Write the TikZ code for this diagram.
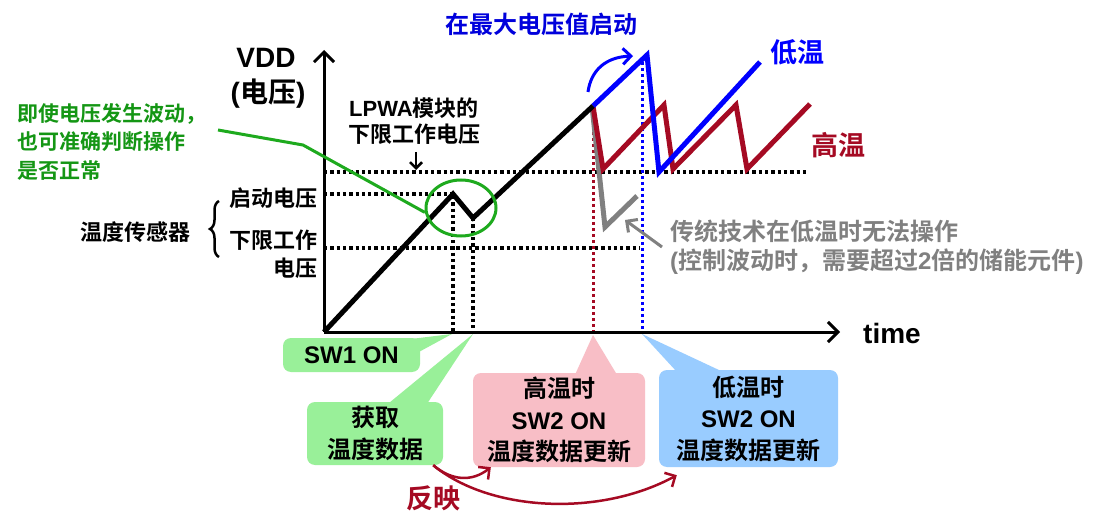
\documentclass[tikz,border=0pt]{standalone}
\usepackage{fontspec}
\setmainfont{Liberation Sans}
\newfontfamily\cjk{Noto Sans CJK SC}[BoldFont={Noto Sans CJK SC Bold}]
\usetikzlibrary{arrows.meta,decorations.pathreplacing,shapes.geometric}
\definecolor{cblue}{RGB}{0,0,255}
\definecolor{tblue}{RGB}{0,0,220}
\definecolor{cred}{RGB}{165,10,35}
\definecolor{cgray}{RGB}{128,128,128}
\definecolor{tgreen}{RGB}{20,150,20}
\definecolor{lgreen}{RGB}{30,170,30}
\definecolor{fgreen}{RGB}{153,240,153}
\definecolor{fpink}{RGB}{248,190,198}
\definecolor{fblue}{RGB}{153,204,255}
\tikzset{
  every node/.style={inner sep=0pt, font=\bfseries},
  axis/.style={line width=3pt, -{Straight Barb[length=10pt,width=20pt,line width=3pt]}},
  kdot/.style={line width=3.3pt, dash pattern=on 3.3pt off 3pt, black},
  cdot/.style={line width=3pt, dash pattern=on 3pt off 3pt},
  wave/.style={line width=5pt, line join=miter, miter limit=4},
  sz22/.style={font=\bfseries\fontsize{22}{26}\selectfont},
  boxtxt/.style={font=\bfseries\fontsize{24}{31.5}\selectfont, align=center, rounded corners=8pt},
  rarrow/.style={line width=2.5pt, cred, -{Straight Barb[length=8pt,width=16pt,line width=2.5pt]}},
}
\begin{document}
\begin{tikzpicture}[x=1pt,y=-1pt]
\useasboundingbox (0,0) rectangle (1120,532);
\fill[white] (0,0) rectangle (1120,532);

% coordinates
\coordinate (O) at (324,332);
\coordinate (Ytop) at (324,50);
\coordinate (Xend) at (840,332);

% dotted guide lines
\draw[kdot] (324,172) -- (806,172);
\draw[kdot] (324,194) -- (453,194);
\draw[kdot] (324,248) -- (640,248);
\draw[kdot] (453,196) -- (453,332);
\draw[kdot] (473,218) -- (473,332);
\draw[cdot, cred] (593,108) -- (593,332);
\draw[cdot, cblue] (642,62) -- (642,332);

% axes
\draw[axis] (O) -- (Ytop);
\draw[axis] (O) -- (Xend);

% waveforms
\draw[wave, cgray] (592,106) -- (605,227) -- (637,196);
\draw[wave, cred] (593,106) -- (603,169) -- (664,105) -- (673,169) -- (736,105) -- (747,169) -- (810,104);
\draw[wave, cblue] (593,106) -- (647,55) -- (659,172) -- (760,62);
\draw[wave, black] (324,332) -- (453,194) -- (473,218) -- (593,106);

% gray arrow to conventional waveform
\coordinate (ga1) at (662,247);
\coordinate (ga2) at (625,220);
\draw[line width=3pt, cgray, -{Straight Barb[length=8pt,width=16pt,line width=3pt]}] (ga1) -- (ga2);

% blue curved arrow
\coordinate (ba1) at (588,92);
\coordinate (ba2) at (633,56);
\draw[line width=3pt, cblue, -{Straight Barb[length=8pt,width=16pt,line width=3pt]}] (ba1) .. controls (591,70) and (606,57) .. (ba2);

% green ellipse and note
\node[draw=lgreen, line width=3pt, ellipse, minimum width=70pt, minimum height=56pt] (ell) at (461,208) {};
\node[font=\bfseries\fontsize{21}{28.5}\selectfont, text=tgreen, align=left, anchor=west] (gnote) at (17,141.5)
  {\cjk 即使电压发生波动，\\\cjk 也可准确判断操作\\\cjk 是否正常};
\coordinate (gl1) at (218,130);
\coordinate (gl2) at (303,145);
\draw[lgreen, line width=3pt] (gl1) -- (gl2) -- (ell.187);

% titles and labels
\node[font=\bfseries\fontsize{24}{24}\selectfont, text=tblue] (title) at (541,24) {\cjk 在最大电压值启动};
\node[font=\bfseries\fontsize{28}{28}\selectfont] (vdd) at (266,58) {VDD};
\node[font=\bfseries\fontsize{28}{28}\selectfont] (vunit) at (268,94) {({\cjk 电压})};
\node[font=\bfseries\fontsize{28}{28}\selectfont] (time) at (892,333) {time};
\node[font=\bfseries\fontsize{27}{27}\selectfont, text=cblue] (low) at (797,52) {\cjk 低温};
\node[font=\bfseries\fontsize{27}{27}\selectfont, text=cred] (high) at (838,145) {\cjk 高温};

\node[sz22, align=center] (lpwa) at (414,121) {LPWA{\cjk 模块的}\\{\cjk 下限工作电压}};
\coordinate (lpa) at (416,152);
\coordinate (lpb) at (416,170);
\draw[line width=2.5pt, -{Straight Barb[length=6pt,width=12pt,line width=2.5pt]}] (lpa) -- (lpb);

\node[sz22, anchor=east] (st) at (318,198) {\cjk 启动电压};
\node[sz22, anchor=east] (lo1) at (318,240) {\cjk 下限工作};
\node[sz22, anchor=east] (lo2) at (318,268) {\cjk 电压};
\node[sz22] (sens) at (135,232) {\cjk 温度传感器};
\draw[line width=2.5pt, decorate, decoration={brace, amplitude=9pt}] (219,257) -- (219,201);

\node[font=\bfseries\fontsize{24}{29}\selectfont, text=cgray, align=left, anchor=west] (conv) at (670,247.5)
  {{\cjk 传统技术在低温时无法操作}\\({\cjk 控制波动时，需要超过}2{\cjk 倍的储能元件})};

% callout boxes
\coordinate (t0) at (452,334);
\coordinate (t1) at (473,334);
\coordinate (t2) at (593,335);
\coordinate (t3) at (642,334);

\node[boxtxt, fill=fgreen, minimum width=137pt, minimum height=34pt] (sw1) at (351.5,355) {SW1 ON};
\fill[fgreen] ([xshift=-16pt,yshift=-2pt]sw1.north east) -- (t0) -- ([xshift=-1pt,yshift=-14pt]sw1.north east) -- cycle;

\node[boxtxt, fill=fgreen, minimum width=136pt, minimum height=63pt] (get) at (375,433.5) {\cjk 获取\\\cjk 温度数据};
\fill[fgreen] ([xshift=13pt,yshift=-2pt]get.north) -- (t1) -- ([xshift=52pt,yshift=-2pt]get.north) -- cycle;

\node[boxtxt, fill=fpink, minimum width=172pt, minimum height=94pt] (pink) at (559,420) {{\cjk 高温时}\\SW2 ON\\{\cjk 温度数据更新}};
\fill[fpink] ([xshift=16pt,yshift=-2pt]pink.north) -- (t2) -- ([xshift=58pt,yshift=-2pt]pink.north) -- cycle;

\node[boxtxt, fill=fblue, minimum width=179pt, minimum height=97pt] (lowbox) at (748.5,418.5) {{\cjk 低温时}\\SW2 ON\\{\cjk 温度数据更新}};
\fill[fblue] ([xshift=18pt,yshift=-2pt]lowbox.north west) -- (t3) -- ([xshift=64pt,yshift=-2pt]lowbox.north west) -- cycle;

% reflect arrows
\node[font=\bfseries\fontsize{27}{27}\selectfont, text=cred] (refl) at (433,498) {\cjk 反映};
\draw[rarrow] ([xshift=-10pt]get.south east) .. controls (452,481) and (472,482) .. ([xshift=18pt]pink.south west);
\draw[rarrow] ([xshift=-10pt]get.south east) .. controls (490,512) and (600,517) .. ([xshift=18pt,yshift=-8pt]lowbox.south west);
\end{tikzpicture}
\end{document}
